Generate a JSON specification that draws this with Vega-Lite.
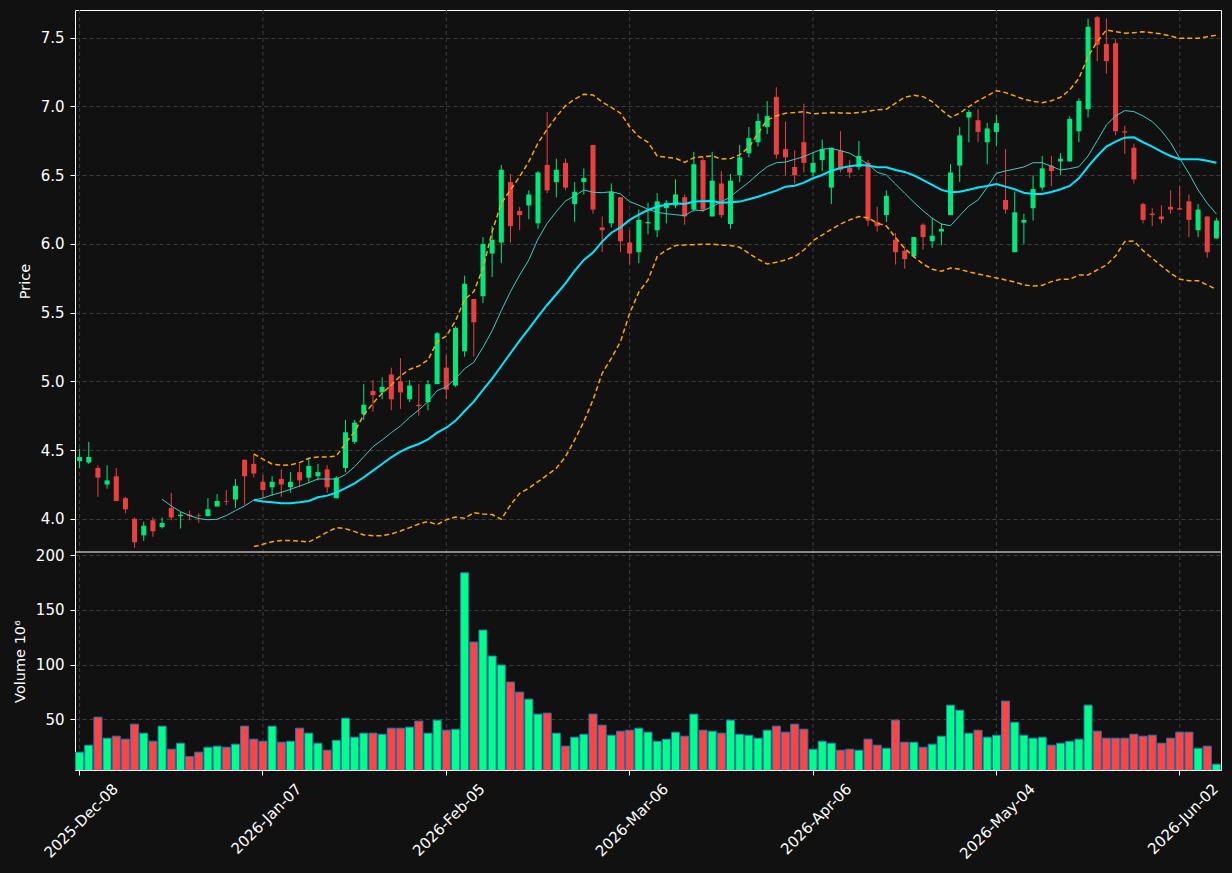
{
"$schema":"https://vega.github.io/schema/vega-lite/v6.json",
"autosize":{"type":"none"},
"padding":{"left":75,"top":10,"right":11,"bottom":103},
"width":1146,"height":760,
"background":"#111111",
"config":{
 "view":{"stroke":"#ffffff","strokeWidth":1},
 "axis":{"labelColor":"#ffffff","titleColor":"#ffffff","labelFont":"DejaVu Sans","titleFont":"DejaVu Sans","labelFontSize":15,"titleFontSize":14.5,"titleFontWeight":"normal","tickColor":"#ffffff","tickSize":5,"tickWidth":1,"domain":false,"gridColor":"#3d3d3d","gridDash":[4,3],"gridWidth":1,"labelPadding":6,"titlePadding":8}
},
"data":{"values":[
{"d":"2025-12-08","o":4.42,"h":4.51,"l":4.37,"c":4.45,"v":19.9,"m10":null,"m20":null,"bu":null,"bl":null},
{"d":"2025-12-09","o":4.41,"h":4.56,"l":4.40,"c":4.45,"v":26.3,"m10":null,"m20":null,"bu":null,"bl":null},
{"d":"2025-12-10","o":4.37,"h":4.39,"l":4.16,"c":4.30,"v":51.9,"m10":null,"m20":null,"bu":null,"bl":null},
{"d":"2025-12-11","o":4.25,"h":4.39,"l":4.22,"c":4.28,"v":32.7,"m10":null,"m20":null,"bu":null,"bl":null},
{"d":"2025-12-12","o":4.31,"h":4.37,"l":4.13,"c":4.13,"v":34.5,"m10":null,"m20":null,"bu":null,"bl":null},
{"d":"2025-12-15","o":4.15,"h":4.16,"l":4.04,"c":4.07,"v":31.8,"m10":null,"m20":null,"bu":null,"bl":null},
{"d":"2025-12-16","o":4.00,"h":4.01,"l":3.79,"c":3.83,"v":45.5,"m10":null,"m20":null,"bu":null,"bl":null},
{"d":"2025-12-17","o":3.88,"h":3.98,"l":3.84,"c":3.95,"v":37.3,"m10":null,"m20":null,"bu":null,"bl":null},
{"d":"2025-12-18","o":3.99,"h":4.01,"l":3.87,"c":3.91,"v":29.9,"m10":null,"m20":null,"bu":null,"bl":null},
{"d":"2025-12-19","o":3.94,"h":4.01,"l":3.93,"c":3.97,"v":43.7,"m10":4.143,"m20":null,"bu":null,"bl":null},
{"d":"2025-12-22","o":4.08,"h":4.19,"l":3.99,"c":4.01,"v":22.6,"m10":4.094,"m20":null,"bu":null,"bl":null},
{"d":"2025-12-23","o":4.02,"h":4.05,"l":3.93,"c":4.03,"v":28.1,"m10":4.053,"m20":null,"bu":null,"bl":null},
{"d":"2025-12-24","o":4.03,"h":4.06,"l":3.99,"c":4.02,"v":15.8,"m10":4.024,"m20":null,"bu":null,"bl":null},
{"d":"2025-12-26","o":4.025,"h":4.04,"l":3.97,"c":4.02,"v":19.9,"m10":4.002,"m20":null,"bu":null,"bl":null},
{"d":"2025-12-29","o":4.02,"h":4.15,"l":4.02,"c":4.07,"v":24.4,"m10":3.994,"m20":null,"bu":null,"bl":null},
{"d":"2025-12-30","o":4.09,"h":4.18,"l":4.09,"c":4.13,"v":25.4,"m10":3.997,"m20":null,"bu":null,"bl":null},
{"d":"2025-12-31","o":4.13,"h":4.21,"l":4.10,"c":4.125,"v":24.4,"m10":4.024,"m20":null,"bu":null,"bl":null},
{"d":"2026-01-02","o":4.14,"h":4.29,"l":4.08,"c":4.24,"v":27.2,"m10":4.060,"m20":null,"bu":null,"bl":null},
{"d":"2026-01-05","o":4.43,"h":4.43,"l":4.10,"c":4.31,"v":43.7,"m10":4.094,"m20":null,"bu":null,"bl":null},
{"d":"2026-01-06","o":4.40,"h":4.47,"l":4.30,"c":4.33,"v":31.8,"m10":4.137,"m20":4.137,"bu":4.472,"bl":3.798},
{"d":"2026-01-07","o":4.27,"h":4.32,"l":4.15,"c":4.21,"v":29.9,"m10":4.152,"m20":4.127,"bu":4.434,"bl":3.815},
{"d":"2026-01-08","o":4.23,"h":4.31,"l":4.17,"c":4.27,"v":43.7,"m10":4.174,"m20":4.121,"bu":4.399,"bl":3.834},
{"d":"2026-01-09","o":4.29,"h":4.36,"l":4.16,"c":4.25,"v":29.0,"m10":4.193,"m20":4.114,"bu":4.390,"bl":3.842},
{"d":"2026-01-12","o":4.23,"h":4.34,"l":4.19,"c":4.27,"v":29.9,"m10":4.215,"m20":4.114,"bu":4.392,"bl":3.842},
{"d":"2026-01-13","o":4.34,"h":4.40,"l":4.23,"c":4.28,"v":41.8,"m10":4.239,"m20":4.121,"bu":4.409,"bl":3.839},
{"d":"2026-01-14","o":4.30,"h":4.44,"l":4.26,"c":4.385,"v":37.3,"m10":4.263,"m20":4.130,"bu":4.441,"bl":3.832},
{"d":"2026-01-15","o":4.31,"h":4.40,"l":4.28,"c":4.34,"v":28.1,"m10":4.290,"m20":4.157,"bu":4.450,"bl":3.866},
{"d":"2026-01-16","o":4.36,"h":4.39,"l":4.19,"c":4.23,"v":21.7,"m10":4.290,"m20":4.169,"bu":4.450,"bl":3.903},
{"d":"2026-01-20","o":4.15,"h":4.31,"l":4.15,"c":4.30,"v":30.8,"m10":4.290,"m20":4.191,"bu":4.457,"bl":3.936},
{"d":"2026-01-21","o":4.37,"h":4.72,"l":4.34,"c":4.63,"v":51.0,"m10":4.322,"m20":4.223,"bu":4.550,"bl":3.929},
{"d":"2026-01-22","o":4.56,"h":4.72,"l":4.545,"c":4.70,"v":33.6,"m10":4.380,"m20":4.259,"bu":4.635,"bl":3.907},
{"d":"2026-01-23","o":4.76,"h":4.98,"l":4.72,"c":4.83,"v":37.3,"m10":4.452,"m20":4.303,"bu":4.756,"bl":3.883},
{"d":"2026-01-26","o":4.93,"h":5.01,"l":4.78,"c":4.90,"v":37.3,"m10":4.525,"m20":4.351,"bu":4.841,"bl":3.878},
{"d":"2026-01-27","o":4.92,"h":5.03,"l":4.87,"c":4.96,"v":36.3,"m10":4.574,"m20":4.399,"bu":4.914,"bl":3.878},
{"d":"2026-01-28","o":5.05,"h":5.10,"l":4.79,"c":4.87,"v":41.8,"m10":4.627,"m20":4.448,"bu":4.974,"bl":3.890},
{"d":"2026-01-29","o":5.00,"h":5.17,"l":4.80,"c":4.92,"v":41.8,"m10":4.676,"m20":4.489,"bu":5.040,"bl":3.912},
{"d":"2026-01-30","o":4.87,"h":5.01,"l":4.85,"c":4.97,"v":42.8,"m10":4.739,"m20":4.521,"bu":5.088,"bl":3.936},
{"d":"2026-02-02","o":4.83,"h":4.98,"l":4.75,"c":4.82,"v":48.3,"m10":4.792,"m20":4.545,"bu":5.112,"bl":3.963},
{"d":"2026-02-03","o":4.85,"h":5.01,"l":4.79,"c":4.98,"v":37.3,"m10":4.853,"m20":4.579,"bu":5.156,"bl":3.980},
{"d":"2026-02-04","o":4.98,"h":5.36,"l":4.98,"c":5.35,"v":49.2,"m10":4.933,"m20":4.627,"bu":5.289,"bl":3.958},
{"d":"2026-02-05","o":5.10,"h":5.19,"l":4.87,"c":4.94,"v":40.0,"m10":4.960,"m20":4.663,"bu":5.330,"bl":3.994},
{"d":"2026-02-06","o":4.97,"h":5.40,"l":4.96,"c":5.39,"v":40.9,"m10":5.020,"m20":4.713,"bu":5.440,"bl":4.014},
{"d":"2026-02-09","o":5.22,"h":5.77,"l":5.18,"c":5.71,"v":183.9,"m10":5.093,"m20":4.785,"bu":5.597,"bl":4.004},
{"d":"2026-02-10","o":5.60,"h":5.60,"l":5.18,"c":5.43,"v":120.6,"m10":5.139,"m20":4.853,"bu":5.653,"bl":4.045},
{"d":"2026-02-11","o":5.62,"h":6.05,"l":5.57,"c":6.00,"v":131.6,"m10":5.248,"m20":4.938,"bu":5.823,"bl":4.036},
{"d":"2026-02-12","o":5.93,"h":6.13,"l":5.76,"c":6.03,"v":107.8,"m10":5.369,"m20":5.020,"bu":6.090,"bl":4.031},
{"d":"2026-02-13","o":6.01,"h":6.575,"l":5.86,"c":6.54,"v":99.6,"m10":5.515,"m20":5.112,"bu":6.296,"bl":3.997},
{"d":"2026-02-17","o":6.45,"h":6.51,"l":6.01,"c":6.13,"v":84.0,"m10":5.653,"m20":5.205,"bu":6.393,"bl":4.101},
{"d":"2026-02-18","o":6.24,"h":6.27,"l":6.10,"c":6.21,"v":74.8,"m10":5.774,"m20":5.297,"bu":6.490,"bl":4.186},
{"d":"2026-02-19","o":6.28,"h":6.39,"l":6.18,"c":6.36,"v":68.4,"m10":5.884,"m20":5.382,"bu":6.599,"bl":4.223},
{"d":"2026-02-20","o":6.15,"h":6.53,"l":6.11,"c":6.52,"v":54.7,"m10":6.036,"m20":5.471,"bu":6.734,"bl":4.271},
{"d":"2026-02-23","o":6.575,"h":6.96,"l":6.37,"c":6.39,"v":55.6,"m10":6.150,"m20":5.556,"bu":6.834,"bl":4.319},
{"d":"2026-02-24","o":6.45,"h":6.62,"l":6.34,"c":6.54,"v":37.3,"m10":6.235,"m20":5.634,"bu":6.926,"bl":4.368},
{"d":"2026-02-25","o":6.59,"h":6.62,"l":6.39,"c":6.41,"v":25.4,"m10":6.313,"m20":5.714,"bu":7.006,"bl":4.453},
{"d":"2026-02-26","o":6.29,"h":6.45,"l":6.16,"c":6.38,"v":33.6,"m10":6.349,"m20":5.804,"bu":7.053,"bl":4.574},
{"d":"2026-02-27","o":6.45,"h":6.55,"l":6.36,"c":6.48,"v":36.3,"m10":6.393,"m20":5.884,"bu":7.089,"bl":4.707},
{"d":"2026-03-02","o":6.72,"h":6.72,"l":6.22,"c":6.25,"v":54.7,"m10":6.376,"m20":5.937,"bu":7.084,"bl":4.865},
{"d":"2026-03-03","o":6.12,"h":6.20,"l":5.94,"c":6.10,"v":44.6,"m10":6.373,"m20":6.017,"bu":7.033,"bl":5.059},
{"d":"2026-03-04","o":6.15,"h":6.44,"l":6.12,"c":6.38,"v":35.4,"m10":6.380,"m20":6.082,"bu":6.994,"bl":5.168},
{"d":"2026-03-05","o":6.34,"h":6.34,"l":5.94,"c":6.02,"v":39.1,"m10":6.364,"m20":6.121,"bu":6.951,"bl":5.289},
{"d":"2026-03-06","o":6.01,"h":6.10,"l":5.85,"c":5.93,"v":40.0,"m10":6.308,"m20":6.175,"bu":6.853,"bl":5.496},
{"d":"2026-03-09","o":5.94,"h":6.25,"l":5.86,"c":6.175,"v":41.8,"m10":6.282,"m20":6.214,"bu":6.780,"bl":5.650},
{"d":"2026-03-10","o":6.15,"h":6.30,"l":6.07,"c":6.16,"v":38.2,"m10":6.252,"m20":6.247,"bu":6.740,"bl":5.738},
{"d":"2026-03-11","o":6.10,"h":6.37,"l":6.05,"c":6.31,"v":29.9,"m10":6.230,"m20":6.271,"bu":6.640,"bl":5.908},
{"d":"2026-03-12","o":6.26,"h":6.32,"l":6.15,"c":6.30,"v":31.8,"m10":6.220,"m20":6.286,"bu":6.631,"bl":5.956},
{"d":"2026-03-13","o":6.28,"h":6.47,"l":6.26,"c":6.36,"v":38.2,"m10":6.213,"m20":6.296,"bu":6.623,"bl":5.988},
{"d":"2026-03-16","o":6.34,"h":6.36,"l":6.14,"c":6.20,"v":34.5,"m10":6.206,"m20":6.291,"bu":6.594,"bl":5.993},
{"d":"2026-03-17","o":6.25,"h":6.67,"l":6.235,"c":6.58,"v":54.7,"m10":6.247,"m20":6.308,"bu":6.628,"bl":5.995},
{"d":"2026-03-18","o":6.61,"h":6.63,"l":6.23,"c":6.25,"v":40.0,"m10":6.242,"m20":6.310,"bu":6.635,"bl":5.998},
{"d":"2026-03-19","o":6.20,"h":6.67,"l":6.20,"c":6.46,"v":39.1,"m10":6.271,"m20":6.313,"bu":6.640,"bl":5.998},
{"d":"2026-03-20","o":6.44,"h":6.53,"l":6.19,"c":6.21,"v":37.3,"m10":6.306,"m20":6.300,"bu":6.618,"bl":5.993},
{"d":"2026-03-23","o":6.145,"h":6.51,"l":6.11,"c":6.46,"v":49.2,"m10":6.344,"m20":6.303,"bu":6.621,"bl":5.988},
{"d":"2026-03-24","o":6.50,"h":6.72,"l":6.45,"c":6.63,"v":36.3,"m10":6.398,"m20":6.308,"bu":6.648,"bl":5.976},
{"d":"2026-03-25","o":6.66,"h":6.85,"l":6.63,"c":6.77,"v":35.4,"m10":6.449,"m20":6.325,"bu":6.703,"bl":5.932},
{"d":"2026-03-26","o":6.74,"h":6.95,"l":6.71,"c":6.895,"v":32.7,"m10":6.509,"m20":6.344,"bu":6.805,"bl":5.889},
{"d":"2026-03-27","o":6.85,"h":7.04,"l":6.80,"c":6.93,"v":40.0,"m10":6.562,"m20":6.366,"bu":6.902,"bl":5.854},
{"d":"2026-03-30","o":7.07,"h":7.14,"l":6.62,"c":6.65,"v":43.7,"m10":6.591,"m20":6.388,"bu":6.931,"bl":5.867},
{"d":"2026-03-31","o":6.69,"h":6.89,"l":6.50,"c":6.63,"v":38.2,"m10":6.596,"m20":6.417,"bu":6.951,"bl":5.884},
{"d":"2026-04-01","o":6.56,"h":6.68,"l":6.44,"c":6.50,"v":45.5,"m10":6.616,"m20":6.424,"bu":6.956,"bl":5.908},
{"d":"2026-04-02","o":6.74,"h":7.02,"l":6.52,"c":6.59,"v":40.9,"m10":6.635,"m20":6.446,"bu":6.963,"bl":5.956},
{"d":"2026-04-06","o":6.52,"h":6.66,"l":6.49,"c":6.59,"v":22.6,"m10":6.664,"m20":6.478,"bu":6.946,"bl":6.024},
{"d":"2026-04-07","o":6.61,"h":6.76,"l":6.53,"c":6.69,"v":29.9,"m10":6.689,"m20":6.502,"bu":6.951,"bl":6.065},
{"d":"2026-04-08","o":6.41,"h":6.70,"l":6.29,"c":6.70,"v":28.1,"m10":6.695,"m20":6.533,"bu":6.956,"bl":6.107},
{"d":"2026-04-09","o":6.68,"h":6.82,"l":6.52,"c":6.54,"v":21.7,"m10":6.679,"m20":6.553,"bu":6.953,"bl":6.145},
{"d":"2026-04-10","o":6.555,"h":6.61,"l":6.48,"c":6.52,"v":22.6,"m10":6.660,"m20":6.565,"bu":6.951,"bl":6.175},
{"d":"2026-04-13","o":6.56,"h":6.75,"l":6.54,"c":6.64,"v":21.7,"m10":6.621,"m20":6.575,"bu":6.956,"bl":6.199},
{"d":"2026-04-14","o":6.59,"h":6.61,"l":6.13,"c":6.17,"v":31.8,"m10":6.582,"m20":6.570,"bu":6.965,"bl":6.191},
{"d":"2026-04-15","o":6.16,"h":6.27,"l":6.09,"c":6.13,"v":26.3,"m10":6.521,"m20":6.558,"bu":6.977,"bl":6.151},
{"d":"2026-04-16","o":6.21,"h":6.39,"l":6.16,"c":6.35,"v":23.5,"m10":6.502,"m20":6.558,"bu":6.980,"bl":6.131},
{"d":"2026-04-17","o":6.03,"h":6.08,"l":5.85,"c":5.94,"v":49.2,"m10":6.436,"m20":6.538,"bu":7.024,"bl":6.046},
{"d":"2026-04-20","o":5.95,"h":5.98,"l":5.82,"c":5.89,"v":29.0,"m10":6.369,"m20":6.524,"bu":7.067,"bl":5.968},
{"d":"2026-04-21","o":5.91,"h":6.05,"l":5.90,"c":6.05,"v":29.0,"m10":6.303,"m20":6.499,"bu":7.082,"bl":5.908},
{"d":"2026-04-22","o":6.14,"h":6.15,"l":5.96,"c":6.05,"v":24.4,"m10":6.242,"m20":6.465,"bu":7.072,"bl":5.854},
{"d":"2026-04-23","o":6.02,"h":6.19,"l":5.97,"c":6.06,"v":27.2,"m10":6.187,"m20":6.429,"bu":7.035,"bl":5.816},
{"d":"2026-04-24","o":6.09,"h":6.15,"l":5.99,"c":6.11,"v":34.5,"m10":6.145,"m20":6.393,"bu":6.975,"bl":5.801},
{"d":"2026-04-27","o":6.21,"h":6.58,"l":6.21,"c":6.52,"v":62.9,"m10":6.133,"m20":6.376,"bu":6.922,"bl":5.825},
{"d":"2026-04-28","o":6.57,"h":6.85,"l":6.45,"c":6.79,"v":58.3,"m10":6.206,"m20":6.380,"bu":6.951,"bl":5.816},
{"d":"2026-04-29","o":6.92,"h":6.975,"l":6.74,"c":6.96,"v":37.3,"m10":6.276,"m20":6.395,"bu":6.999,"bl":5.796},
{"d":"2026-04-30","o":6.90,"h":6.98,"l":6.74,"c":6.815,"v":40.0,"m10":6.320,"m20":6.410,"bu":7.042,"bl":5.782},
{"d":"2026-05-01","o":6.74,"h":6.88,"l":6.58,"c":6.84,"v":33.6,"m10":6.412,"m20":6.422,"bu":7.077,"bl":5.767},
{"d":"2026-05-04","o":6.815,"h":6.94,"l":6.715,"c":6.88,"v":35.4,"m10":6.514,"m20":6.436,"bu":7.115,"bl":5.753},
{"d":"2026-05-05","o":6.32,"h":6.69,"l":6.22,"c":6.25,"v":66.6,"m10":6.531,"m20":6.417,"bu":7.101,"bl":5.738},
{"d":"2026-05-06","o":5.94,"h":6.38,"l":5.94,"c":6.23,"v":47.3,"m10":6.545,"m20":6.398,"bu":7.077,"bl":5.723},
{"d":"2026-05-07","o":6.155,"h":6.22,"l":6.00,"c":6.175,"v":35.4,"m10":6.560,"m20":6.373,"bu":7.053,"bl":5.702},
{"d":"2026-05-08","o":6.26,"h":6.50,"l":6.17,"c":6.40,"v":32.7,"m10":6.591,"m20":6.364,"bu":7.038,"bl":5.694},
{"d":"2026-05-11","o":6.41,"h":6.64,"l":6.39,"c":6.55,"v":33.6,"m10":6.591,"m20":6.364,"bu":7.028,"bl":5.699},
{"d":"2026-05-12","o":6.57,"h":6.64,"l":6.42,"c":6.53,"v":26.3,"m10":6.565,"m20":6.378,"bu":7.042,"bl":5.726},
{"d":"2026-05-13","o":6.60,"h":6.66,"l":6.50,"c":6.62,"v":28.1,"m10":6.538,"m20":6.398,"bu":7.067,"bl":5.743},
{"d":"2026-05-14","o":6.60,"h":6.93,"l":6.60,"c":6.91,"v":29.9,"m10":6.548,"m20":6.422,"bu":7.120,"bl":5.743},
{"d":"2026-05-15","o":6.82,"h":7.06,"l":6.74,"c":7.04,"v":31.8,"m10":6.562,"m20":6.478,"bu":7.205,"bl":5.774},
{"d":"2026-05-18","o":6.98,"h":7.64,"l":6.92,"c":7.58,"v":62.9,"m10":6.640,"m20":6.562,"bu":7.363,"bl":5.774},
{"d":"2026-05-19","o":7.65,"h":7.66,"l":7.33,"c":7.45,"v":39.1,"m10":6.751,"m20":6.640,"bu":7.472,"bl":5.811},
{"d":"2026-05-20","o":7.455,"h":7.64,"l":7.24,"c":7.33,"v":32.7,"m10":6.866,"m20":6.708,"bu":7.557,"bl":5.847},
{"d":"2026-05-21","o":7.46,"h":7.49,"l":6.79,"c":6.82,"v":32.7,"m10":6.931,"m20":6.744,"bu":7.544,"bl":5.913},
{"d":"2026-05-22","o":6.82,"h":6.86,"l":6.655,"c":6.81,"v":32.7,"m10":6.970,"m20":6.773,"bu":7.533,"bl":6.017},
{"d":"2026-05-26","o":6.70,"h":6.73,"l":6.44,"c":6.47,"v":36.3,"m10":6.963,"m20":6.776,"bu":7.537,"bl":6.022},
{"d":"2026-05-27","o":6.29,"h":6.30,"l":6.15,"c":6.175,"v":34.5,"m10":6.931,"m20":6.740,"bu":7.544,"bl":5.951},
{"d":"2026-05-28","o":6.22,"h":6.26,"l":6.13,"c":6.21,"v":35.4,"m10":6.890,"m20":6.708,"bu":7.537,"bl":5.896},
{"d":"2026-05-29","o":6.20,"h":6.28,"l":6.15,"c":6.18,"v":28.1,"m10":6.824,"m20":6.672,"bu":7.528,"bl":5.840},
{"d":"2026-06-01","o":6.27,"h":6.39,"l":6.22,"c":6.25,"v":32.7,"m10":6.737,"m20":6.640,"bu":7.513,"bl":5.787},
{"d":"2026-06-02","o":6.26,"h":6.42,"l":6.245,"c":6.25,"v":38.2,"m10":6.623,"m20":6.616,"bu":7.496,"bl":5.743},
{"d":"2026-06-03","o":6.31,"h":6.36,"l":6.05,"c":6.175,"v":38.2,"m10":6.514,"m20":6.616,"bu":7.496,"bl":5.733},
{"d":"2026-06-04","o":6.10,"h":6.29,"l":6.05,"c":6.25,"v":23.5,"m10":6.393,"m20":6.616,"bu":7.496,"bl":5.733},
{"d":"2026-06-05","o":6.20,"h":6.20,"l":5.90,"c":5.94,"v":25.4,"m10":6.296,"m20":6.606,"bu":7.508,"bl":5.702},
{"d":"2026-06-08","o":6.04,"h":6.19,"l":6.04,"c":6.17,"v":8.9,"m10":6.218,"m20":6.591,"bu":7.518,"bl":5.670}
]},
"encoding":{"x":{"field":"d","type":"ordinal","scale":{"type":"band","paddingInner":0,"paddingOuter":0},
  "axis":{"values":["2025-12-08","2026-01-07","2026-02-05","2026-03-06","2026-04-06","2026-05-04","2026-06-02"],
   "labelExpr":"utcFormat(toDate(datum.value), '%Y-%b-%d')","labelAngle":-45,"labelAlign":"right","labelBaseline":"middle","labelOffset":36,"labelPadding":11,"labelOverlap":false,"grid":false,"title":null}}},
"layer":[
 {"data":{"values":[{"d":"2025-12-08"},{"d":"2026-01-07"},{"d":"2026-02-05"},{"d":"2026-03-06"},{"d":"2026-04-06"},{"d":"2026-05-04"},{"d":"2026-06-02"}]},
  "mark":{"type":"rule","color":"#3d3d3d","strokeWidth":1,"strokeDash":[4,3]},
  "encoding":{}},
 {"layer":[
  {"mark":{"type":"rule","strokeWidth":1},
   "encoding":{"y":{"field":"l","type":"quantitative","scale":{"domain":[3.759,7.702],"range":[542,0],"nice":false,"zero":false},
      "axis":{"orient":"left","values":[4,4.5,5,5.5,6,6.5,7,7.5],"format":".1f","title":"Price","grid":true}},
    "y2":{"field":"h"},
    "color":{"condition":{"test":"datum.c >= datum.o","value":"#02e77c"},"value":"#e84040"}}},
  {"mark":{"type":"bar","width":{"band":0.55}},
   "encoding":{"y":{"field":"o","type":"quantitative","scale":{"domain":[3.759,7.702],"range":[542,0],"nice":false,"zero":false},
      "axis":{"orient":"left","values":[4,4.5,5,5.5,6,6.5,7,7.5],"format":".1f","title":"Price","grid":true}},"y2":{"field":"c"},
    "color":{"condition":{"test":"datum.c >= datum.o","value":"#02e77c"},"value":"#e84040"}}},
  {"mark":{"type":"line","color":"#45c8c2","strokeWidth":1},
   "encoding":{"y":{"field":"m10","type":"quantitative","scale":{"domain":[3.759,7.702],"range":[542,0],"nice":false,"zero":false},
      "axis":{"orient":"left","values":[4,4.5,5,5.5,6,6.5,7,7.5],"format":".1f","title":"Price","grid":true}}}},
  {"mark":{"type":"line","color":"#00e8ff","strokeWidth":2},
   "encoding":{"y":{"field":"m20","type":"quantitative","scale":{"domain":[3.759,7.702],"range":[542,0],"nice":false,"zero":false},
      "axis":{"orient":"left","values":[4,4.5,5,5.5,6,6.5,7,7.5],"format":".1f","title":"Price","grid":true}}}},
  {"mark":{"type":"line","color":"#ffa500","strokeWidth":1.5,"strokeDash":[5,3]},
   "encoding":{"y":{"field":"bu","type":"quantitative","scale":{"domain":[3.759,7.702],"range":[542,0],"nice":false,"zero":false},
      "axis":{"orient":"left","values":[4,4.5,5,5.5,6,6.5,7,7.5],"format":".1f","title":"Price","grid":true}}}},
  {"mark":{"type":"line","color":"#ffa500","strokeWidth":1.5,"strokeDash":[5,3]},
   "encoding":{"y":{"field":"bl","type":"quantitative","scale":{"domain":[3.759,7.702],"range":[542,0],"nice":false,"zero":false},
      "axis":{"orient":"left","values":[4,4.5,5,5.5,6,6.5,7,7.5],"format":".1f","title":"Price","grid":true}}}}
 ]},
 {"layer":[
  {"mark":{"type":"bar","width":{"band":0.88},"stroke":"#1f77b4","strokeWidth":1,"clip":true},
   "encoding":{
    "y":{"field":"v","type":"quantitative","scale":{"domain":[3.6,202.9],"range":[760,542],"nice":false,"zero":false},
     "axis":{"orient":"left","values":[50,100,150,200],"title":"Volume  10⁶","grid":true}},
    "color":{"condition":{"test":"datum.c >= datum.o","value":"#00ff88"},"value":"#ff4444"}}},
  {"data":{"values":[{"top":202.9}]},
   "mark":{"type":"rule","color":"#ffffff","strokeWidth":1},
   "encoding":{"x":null,"y":{"field":"top","type":"quantitative","scale":{"domain":[3.6,202.9],"range":[760,542],"nice":false,"zero":false},
     "axis":{"orient":"left","values":[50,100,150,200],"title":"Volume  10⁶","grid":true}}}}
 ]}
],
"resolve":{"scale":{"y":"independent"},"axis":{"y":"independent"}}
}
